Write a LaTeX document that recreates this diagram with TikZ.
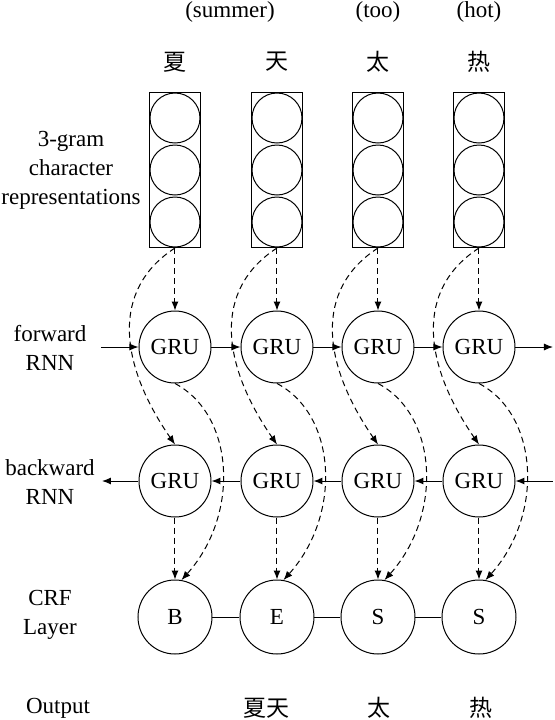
\documentclass[tikz,border=0pt]{standalone}
\usepackage{fontspec}
\setmainfont{Liberation Serif}
\newfontfamily\cjk{Noto Sans CJK SC}
\usetikzlibrary{arrows.meta}

\begin{document}
\begin{tikzpicture}[x=0.5pt,y=-0.5pt,line width=0.5pt,
  >={Latex[length=4.5pt,width=3.5pt]},
  font=\fontsize{11.5}{14.5}\selectfont,
  embbox/.style={draw,rectangle,minimum width=25.5pt,minimum height=77.5pt,inner sep=0pt},
  unit/.style={draw,circle,minimum size=25pt,inner sep=0pt},
  gru/.style={draw,circle,minimum size=36pt,inner sep=0pt},
  crf/.style={draw,circle,minimum size=37pt,inner sep=0pt},
  lbl/.style={align=center},
  flow/.style={->,dash pattern=on 3pt off 2pt}]

\useasboundingbox (0,0) rectangle (554,720);

% row labels
\node[lbl] (lemb) at (71,170) {3-gram\\character\\representations};
\node[lbl] (lfw)  at (50,348) {forward\\RNN};
\node[lbl] (lbw)  at (50,482) {backward\\RNN};
\node[lbl] (lcrf) at (50,615) {CRF\\Layer};
\node (lout) at (58,708) {Output};

% words
\node (en1) at (230,12) {(summer)};
\node (en3) at (378,12) {(too)};
\node (en4) at (479,12) {(hot)};

\node (ch1) at (175,62) {\cjk 夏};
\node (ch2) at (277,62) {\cjk 天};
\node (ch3) at (378,62) {\cjk 太};
\node (ch4) at (479,62) {\cjk 热};

% 3-gram embeddings
\node[embbox] (emb1) at (175,170) {};
\node[unit] (u1a) at (175,118) {};
\node[unit] (u1b) at (175,170) {};
\node[unit] (u1c) at (175,222) {};

\node[embbox] (emb2) at (277,170) {};
\node[unit] (u2a) at (277,118) {};
\node[unit] (u2b) at (277,170) {};
\node[unit] (u2c) at (277,222) {};

\node[embbox] (emb3) at (378,170) {};
\node[unit] (u3a) at (378,118) {};
\node[unit] (u3b) at (378,170) {};
\node[unit] (u3c) at (378,222) {};

\node[embbox] (emb4) at (479,170) {};
\node[unit] (u4a) at (479,118) {};
\node[unit] (u4b) at (479,170) {};
\node[unit] (u4c) at (479,222) {};

% forward RNN
\node[gru] (fw1) at (175,347) {GRU};
\node[gru] (fw2) at (277,347) {GRU};
\node[gru] (fw3) at (378,347) {GRU};
\node[gru] (fw4) at (479,347) {GRU};
\coordinate (fin)  at (101,347);
\coordinate (fout) at (553,347);
\draw[->] (fin) -- (fw1);
\draw[->] (fw1) -- (fw2);
\draw[->] (fw2) -- (fw3);
\draw[->] (fw3) -- (fw4);
\draw[->] (fw4) -- (fout);

% backward RNN
\node[gru] (bw1) at (175,481) {GRU};
\node[gru] (bw2) at (277,481) {GRU};
\node[gru] (bw3) at (378,481) {GRU};
\node[gru] (bw4) at (479,481) {GRU};
\coordinate (bin)  at (553,481);
\coordinate (bout) at (102,481);
\draw[->] (bw1) -- (bout);
\draw[->] (bw2) -- (bw1);
\draw[->] (bw3) -- (bw2);
\draw[->] (bw4) -- (bw3);
\draw[->] (bin) -- (bw4);

% CRF layer
\node[crf] (crf1) at (175,617) {B};
\node[crf] (crf2) at (277,617) {E};
\node[crf] (crf3) at (378,617) {S};
\node[crf] (crf4) at (479,617) {S};
\draw (crf1) -- (crf2) -- (crf3) -- (crf4);

% dashed flows
\draw[flow] (emb1.south) -- (fw1.north);
\draw[flow] (emb1.south) .. controls (110,290) and (120,365) .. (bw1.north);
\draw[flow] (fw1.south) .. controls (235,415) and (240,515) .. (crf1.80);
\draw[flow] (bw1.south) -- (crf1.north);

\draw[flow] (emb2.south) -- (fw2.north);
\draw[flow] (emb2.south) .. controls (212,290) and (222,365) .. (bw2.north);
\draw[flow] (fw2.south) .. controls (337,415) and (342,515) .. (crf2.80);
\draw[flow] (bw2.south) -- (crf2.north);

\draw[flow] (emb3.south) -- (fw3.north);
\draw[flow] (emb3.south) .. controls (313,290) and (323,365) .. (bw3.north);
\draw[flow] (fw3.south) .. controls (438,415) and (443,515) .. (crf3.80);
\draw[flow] (bw3.south) -- (crf3.north);

\draw[flow] (emb4.south) -- (fw4.north);
\draw[flow] (emb4.south) .. controls (414,290) and (424,365) .. (bw4.north);
\draw[flow] (fw4.south) .. controls (539,415) and (544,515) .. (crf4.80);
\draw[flow] (bw4.south) -- (crf4.north);

% output
\node (o12) at (266,708) {\cjk 夏天};
\node (o3)  at (379,708) {\cjk 太};
\node (o4)  at (481,708) {\cjk 热};

\end{tikzpicture}
\end{document}
